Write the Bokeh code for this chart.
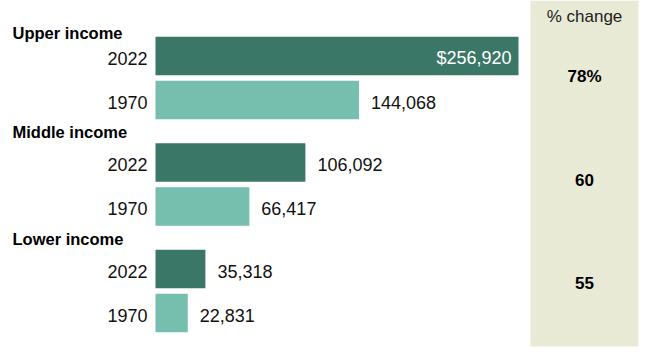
from bokeh.plotting import figure
from bokeh.models import Range1d, ColumnDataSource
from bokeh.core.properties import value
from bokeh.embed import file_html
from bokeh.resources import INLINE

# ---- data ----
groups = ["Upper income", "Middle income", "Lower income"]
years = ["2022", "1970"]
income_2022 = [256920, 106092, 35318]
income_1970 = [144068, 66417, 22831]
pct_change = [78, 60, 55]

# ---- styling ----
DARK = "#3A7767"
LIGHT = "#76BEAE"
PANEL = "#E8EAD6"
FONT = "Liberation Sans"

W, H = 654, 357
x0_px = 155.0
k = 363.0 / max(income_2022)  # px per dollar

p = figure(width=W, height=H, output_backend="svg", toolbar_location=None,
           x_range=Range1d(-x0_px / k, (W - x0_px) / k),
           y_range=Range1d(H, 0), min_border=0)
p.axis.visible = False
p.grid.visible = False
p.outline_line_color = None
p.background_fill_color = "white"
p.border_fill_color = "white"

def px_to_x(px):
    return (px - x0_px) / k

# right-hand % change panel
p.quad(left=[px_to_x(530)], right=[px_to_x(638)], top=[0], bottom=[346],
       fill_color=PANEL, line_color=None)

# bar rows
vals, ys, cols, labels, lx, lcol, lalign = [], [], [], [], [], [], []
group_top = 55.5
group_step = 106.5
row_step = 44.0
for g in range(len(groups)):
    for j, series in enumerate([income_2022, income_1970]):
        v = series[g]
        y = group_top + g * group_step + j * row_step
        vals.append(v)
        ys.append(y)
        cols.append(DARK if j == 0 else LIGHT)
        if g == 0 and j == 0:
            labels.append("${:,}".format(v))
            lx.append(v - 7 / k)
            lcol.append("white")
            lalign.append("right")
        else:
            labels.append("{:,}".format(v))
            lx.append(v + 12 / k)
            lcol.append("#111111")
            lalign.append("left")

src = ColumnDataSource(dict(v=vals, y=ys, c=cols, lab=labels, lx=lx,
                            lc=lcol, la=lalign,
                            yr=[years[i % 2] for i in range(len(vals))],
                            yx=[px_to_x(147)] * len(vals),
                            ty=[y + 2 for y in ys]))
p.hbar(y="y", left=0, right="v", height=38.5, fill_color="c", line_color=None, source=src)

p.text(x="lx", y="ty", text="lab", text_color="lc", text_align="la",
       text_baseline="middle", text_font=value(FONT), text_font_size="18px", source=src)
p.text(x="yx", y="ty", text="yr", text_color="#111111", text_align="right",
       text_baseline="middle", text_font=value(FONT), text_font_size="18px", source=src)

# group headers
header_mid = [32.5, 131.5, 238.5]
p.text(x=[px_to_x(12)] * 3, y=header_mid, text=groups, text_align="left",
       text_baseline="middle", text_font=value(FONT), text_font_style="bold",
       text_font_size="16.5px", text_color="#000000")

# % change column
p.text(x=[px_to_x(584)], y=[16], text=["% change"], text_align="center",
       text_baseline="middle", text_font=value(FONT), text_font_size="17px",
       text_color="#222222")
pct_labels = ["{}%".format(pct_change[0])] + [str(v) for v in pct_change[1:]]
p.text(x=[px_to_x(584)] * 3, y=[76 + g * 103 for g in range(3)],
       text=pct_labels, text_align="center", text_baseline="middle",
       text_font=value(FONT), text_font_style="bold", text_font_size="17px",
       text_color="#000000")

open("out.html", "w").write(file_html(p, INLINE))
